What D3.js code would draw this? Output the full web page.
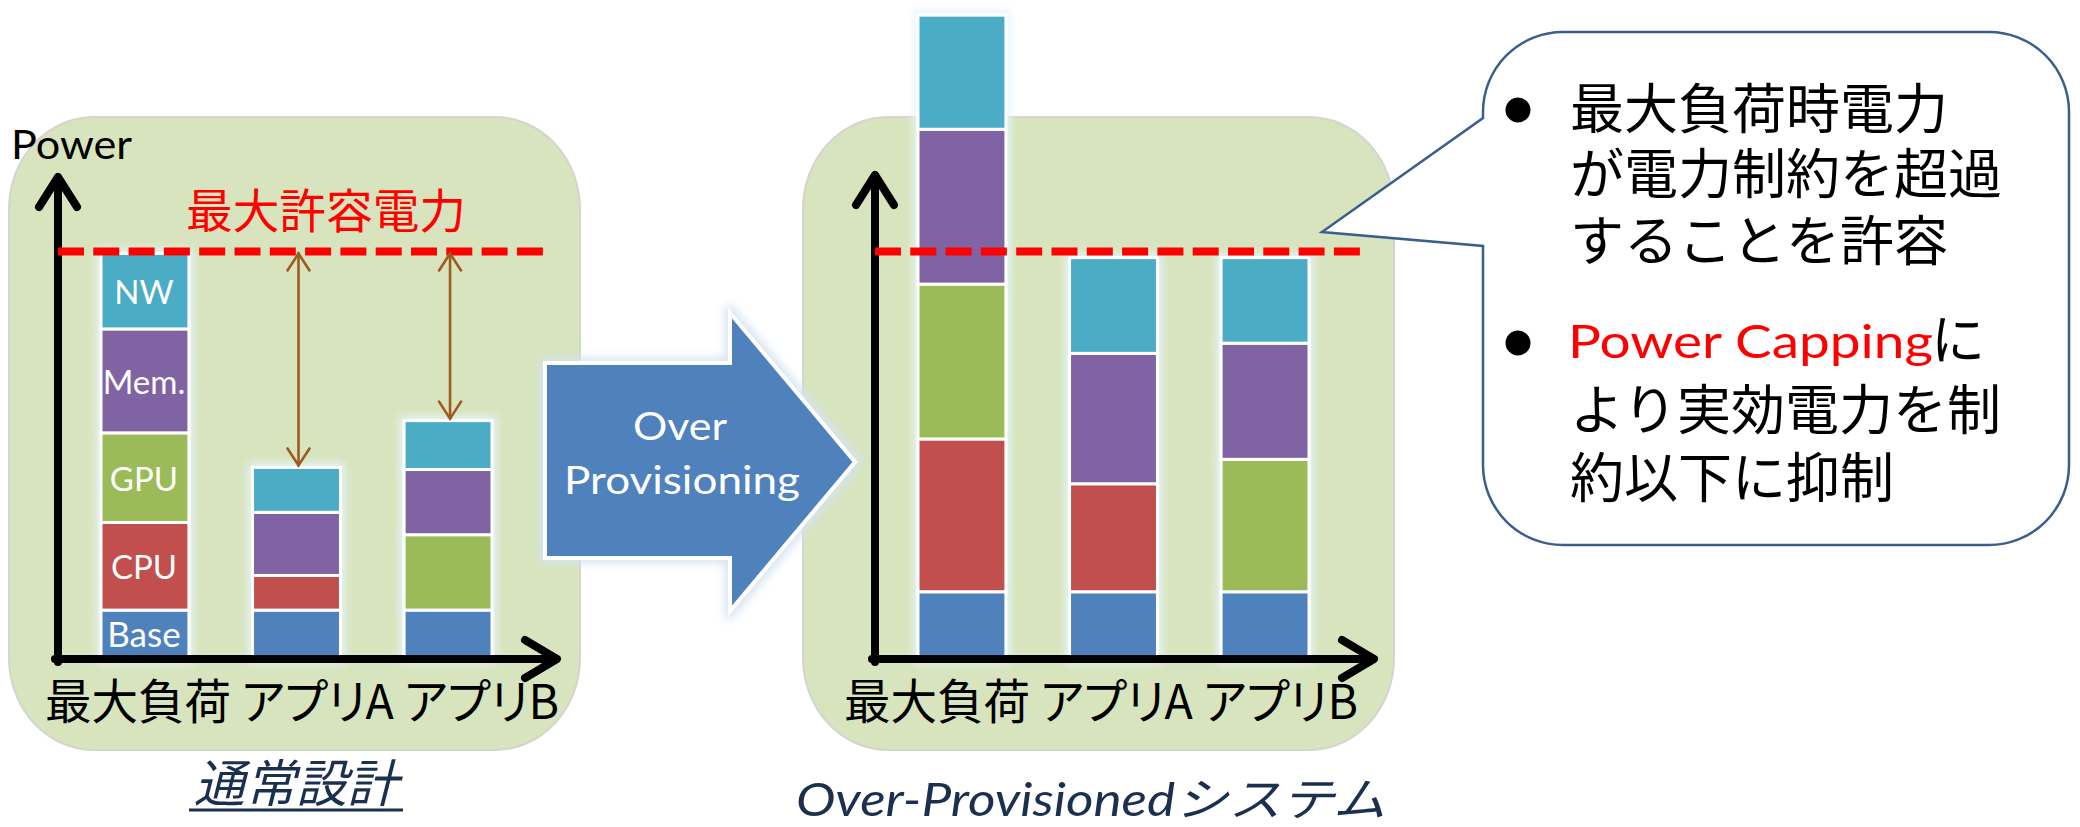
<!DOCTYPE html>
<html><head><meta charset="utf-8">
<script src="https://cdn.jsdelivr.net/npm/d3@7"></script>
<style>body{margin:0;background:#fff} svg{display:block}</style>
</head><body>
<svg id="c" width="2080" height="827"></svg>
<script>
// ---------------- data ----------------
const categories = ["最大負荷", "アプリA", "アプリB"];
const componentKeys = ["Base", "CPU", "GPU", "Mem.", "NW"];
const componentColors = ["#4F81BD", "#C0504D", "#9BBB59", "#8064A2", "#4BACC6"];
// 通常設計
const normalBase = [12, 12, 12];
const normalCPU  = [21.5, 8.5, 0];
const normalGPU  = [22, 0, 18.5];
const normalMem  = [25.5, 15.5, 16];
const normalNW   = [18.5, 11, 12];
// Over-Provisionedシステム
const overBase = [16.5, 16.5, 16.5];
const overCPU  = [37.5, 26.5, 0];
const overGPU  = [38, 0, 32.5];
const overMem  = [38, 32, 28.5];
const overNW   = [28, 23.5, 21];
const powerCap = 100;
const yAxisLabel = "Power";
const capLabel = "最大許容電力";
const arrowLabel = ["Over", "Provisioning"];
const panelCaptions = ["通常設計", "Over-Provisionedシステム"];
const calloutBullets = [
  ["最大負荷時電力", "が電力制約を超過", "することを許容"],
  ["Power Capping|に", "より実効電力を制", "約以下に抑制"]
];

// ---------------- setup ----------------
const svg = d3.select("#c");
const defs = svg.append("defs");
function glow(id, color, dil, sd) {
  const f = defs.append("filter").attr("id", id)
    .attr("x", "-30%").attr("y", "-30%").attr("width", "160%").attr("height", "160%");
  f.append("feMorphology").attr("in", "SourceAlpha").attr("operator", "dilate").attr("radius", dil).attr("result", "d");
  f.append("feGaussianBlur").attr("in", "d").attr("stdDeviation", sd).attr("result", "b");
  f.append("feFlood").attr("flood-color", color).attr("result", "c");
  f.append("feComposite").attr("in", "c").attr("in2", "b").attr("operator", "in").attr("result", "g");
  const m = f.append("feMerge");
  m.append("feMergeNode").attr("in", "g");
  m.append("feMergeNode").attr("in", "SourceGraphic");
}
glow("barGlow", "#e6f4fa", 3, 4);
glow("arrowGlow", "#d6e3f3", 3, 5);

const LATIN = "Lato, 'Open Sans', sans-serif";
const CJK = "'Noto Sans CJK JP', sans-serif";
const y = d3.scaleLinear().domain([0, 100]).range([659, 251.5]);

function makeTable(b, c, g, m, n) {
  return categories.map((cat, i) => ({cat, "Base": b[i], "CPU": c[i], "GPU": g[i], "Mem.": m[i], "NW": n[i]}));
}
const color = d3.scaleOrdinal().domain(componentKeys).range(componentColors);

const panels = [
  {bg: [9, 117, 571, 633], axisX: 58, axisTop: 176, axisEnd: 558, dashEnd: 544,
   table: makeTable(normalBase, normalCPU, normalGPU, normalMem, normalNW),
   labels: true, gapArrows: true, labelX: 45},
  {bg: [803, 117, 591, 633], axisX: 875, axisTop: 174, axisEnd: 1375, dashEnd: 1360,
   table: makeTable(overBase, overCPU, overGPU, overMem, overNW),
   labels: false, gapArrows: false, labelX: 844}
];

// backgrounds
panels.forEach(p => {
  svg.append("rect").attr("x", p.bg[0]).attr("y", p.bg[1]).attr("width", p.bg[2]).attr("height", p.bg[3])
    .attr("rx", 85).attr("ry", 92).attr("fill", "#D7E4BD").attr("stroke", "#d3d6cc").attr("stroke-width", 2);
});

panels.forEach(p => {
  const g = svg.append("g");
  const x = d3.scaleBand().domain(categories).range([p.axisX + 43, p.axisX + 434]).paddingInner(0.42).paddingOuter(0);
  const series = d3.stack().keys(componentKeys)(p.table);
  const totals = p.table.map(d => componentKeys.reduce((s, k) => s + d[k], 0));

  // bars
  categories.forEach((cat, ci) => {
    const bg = g.append("g").attr("filter", "url(#barGlow)");
    series.forEach(s => {
      const d = s[ci];
      if (d[1] - d[0] <= 0) return;
      bg.append("rect")
        .attr("x", x(cat)).attr("width", x.bandwidth())
        .attr("y", y(d[1])).attr("height", y(d[0]) - y(d[1]))
        .attr("fill", color(s.key)).attr("stroke", "#fff").attr("stroke-width", 3);
    });
  });

  // component labels on first bar
  if (p.labels) {
    series.forEach(s => {
      const d = s[0];
      g.append("text").attr("x", x(categories[0]) + x.bandwidth() / 2 - 1)
        .attr("y", (y(d[0]) + y(d[1])) / 2 - (s.key === "Base" ? 2 : 0))
        .attr("text-anchor", "middle").attr("dominant-baseline", "central")
        .attr("font-family", LATIN).attr("font-size", s.key === "Base" ? 35 : 33).attr("fill", "#fff")
        .text(s.key);
    });
  }

  // axes
  const ax = g.append("g").attr("fill", "none").attr("stroke", "#000").attr("stroke-width", 8)
    .attr("stroke-linecap", "round").attr("stroke-linejoin", "round");
  ax.append("path").attr("d", `M${p.axisX},${y(0) + 3}V${p.axisTop + 2}`);
  ax.append("path").attr("d", `M${p.axisX - 19},${p.axisTop + 31}L${p.axisX},${p.axisTop + 1}L${p.axisX + 19},${p.axisTop + 31}`);
  ax.append("path").attr("d", `M${p.axisX - 3},${y(0)}H${p.axisEnd - 2}`);
  ax.append("path").attr("d", `M${p.axisEnd - 33},${y(0) - 19}L${p.axisEnd - 1},${y(0)}L${p.axisEnd - 33},${y(0) + 19}`);

  // power cap dashed line
  g.append("line").attr("x1", p.axisX).attr("x2", p.dashEnd).attr("y1", y(powerCap)).attr("y2", y(powerCap))
    .attr("stroke", "#FF0000").attr("stroke-width", 8).attr("stroke-dasharray", "26 9.3");

  // headroom arrows
  if (p.gapArrows) {
    const br = "#9E5A1F";
    [1, 2].forEach(ci => {
      const cx = x(categories[ci]) + x.bandwidth() / 2 + 2;
      const t = y(powerCap) + 2, b = y(totals[ci]) - 2;
      const a = g.append("g").attr("fill", "none").attr("stroke", br).attr("stroke-width", 2.6).attr("stroke-linecap", "round");
      a.append("path").attr("d", `M${cx},${t}V${b}`);
      a.append("path").attr("d", `M${cx - 11},${t + 17}L${cx},${t}L${cx + 11},${t + 17}`);
      a.append("path").attr("d", `M${cx - 11},${b - 17}L${cx},${b}L${cx + 11},${b - 17}`);
    });
  }

  // category labels (single text line as in the slide)
  g.append("text").attr("x", p.labelX).attr("y", 719)
    .attr("font-family", CJK).attr("font-size", 48).attr("fill", "#000")
    .style("font-feature-settings", "'palt' 1")
    .attr("textLength", 514).attr("lengthAdjust", "spacingAndGlyphs")
    .text(categories.join(" "));
});

// axis label "Power" and cap label
svg.append("text").attr("x", 11).attr("y", 159).attr("font-family", LATIN).attr("font-size", 40)
  .attr("textLength", 121).attr("lengthAdjust", "spacingAndGlyphs").attr("fill", "#000").text(yAxisLabel);
svg.append("text").attr("x", 186).attr("y", 228).attr("font-family", CJK).attr("font-size", 47)
  .attr("textLength", 280).attr("lengthAdjust", "spacingAndGlyphs").attr("fill", "#FF0000").text(capLabel);

// captions
const cap1 = svg.append("text").attr("x", 194).attr("y", 802).attr("font-family", CJK).attr("font-size", 51)
  .attr("font-style", "italic").attr("fill", "#1B2F4E").text(panelCaptions[0]);
const c1len = cap1.node().getComputedTextLength();
svg.append("line").attr("x1", 189).attr("x2", 194 + c1len + 5).attr("y1", 810).attr("y2", 810)
  .attr("stroke", "#1B2F4E").attr("stroke-width", 3);
svg.append("text").attr("x", 796).attr("y", 816).attr("font-family", LATIN + ", 'Noto Sans CJK JP'").attr("font-size", 46)
  .attr("font-style", "italic").attr("fill", "#1B2F4E")
  .attr("textLength", 590).attr("lengthAdjust", "spacingAndGlyphs").text(panelCaptions[1]);

// block arrow
const arrowPts = [[545, 363], [730, 363], [730, 313], [855, 462], [730, 611], [730, 558], [545, 558]];
svg.append("path").attr("d", d3.line()(arrowPts) + "Z")
  .attr("fill", "#4F81BD").attr("stroke", "#fff").attr("stroke-width", 4).attr("stroke-linejoin", "miter")
  .attr("filter", "url(#arrowGlow)");
svg.append("text").attr("x", 680).attr("y", 440).attr("text-anchor", "middle").attr("font-family", LATIN)
  .attr("font-size", 39).attr("fill", "#fff").attr("textLength", 94).attr("lengthAdjust", "spacingAndGlyphs").text(arrowLabel[0]);
svg.append("text").attr("x", 682).attr("y", 494).attr("text-anchor", "middle").attr("font-family", LATIN)
  .attr("font-size", 39).attr("fill", "#fff").attr("textLength", 236).attr("lengthAdjust", "spacingAndGlyphs").text(arrowLabel[1]);

// callout
const L = 1483, R = 2069, T = 32, B = 545, r = 80;
const callout = `M${L + r},${T}H${R - r}A${r},${r} 0 0 1 ${R},${T + r}V${B - r}A${r},${r} 0 0 1 ${R - r},${B}` +
  `H${L + r}A${r},${r} 0 0 1 ${L},${B - r}V246L1322,232L${L},118V${T + r}A${r},${r} 0 0 1 ${L + r},${T}Z`;
svg.append("path").attr("d", callout).attr("fill", "#fff").attr("stroke", "#3A5F8F").attr("stroke-width", 2.5);

const lineBase = [[129, 194, 261], [360, 430, 498]];
const bulletY = [110, 343];
calloutBullets.forEach((lines, bi) => {
  svg.append("circle").attr("cx", 1518).attr("cy", bulletY[bi]).attr("r", 12.5).attr("fill", "#000");
  lines.forEach((ln, li) => {
    const yy = lineBase[bi][li];
    if (ln.includes("|")) {
      const [red, rest] = ln.split("|");
      svg.append("text").attr("x", 1568).attr("y", yy - 2).attr("font-family", LATIN).attr("font-size", 47)
        .attr("fill", "#FF0000").attr("textLength", 365).attr("lengthAdjust", "spacingAndGlyphs").text(red);
      svg.append("text").attr("x", 1931).attr("y", yy).attr("font-family", CJK).attr("font-size", 54)
        .attr("fill", "#000").text(rest);
    } else {
      svg.append("text").attr("x", 1570).attr("y", yy).attr("font-family", CJK).attr("font-size", 54)
        .attr("fill", "#000").text(ln);
    }
  });
});
</script>
</body></html>
